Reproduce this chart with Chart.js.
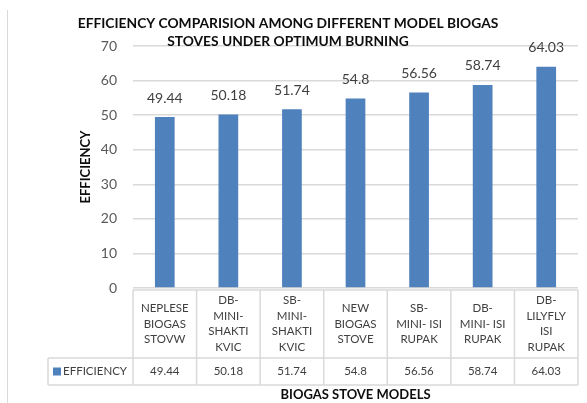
<!DOCTYPE html>
<html>
<head>
<meta charset="utf-8">
<script src="https://cdn.jsdelivr.net/npm/chart.js@4"></script>
<style>
  html, body { margin: 0; padding: 0; background: #fff; }
  #wrap { width: 587px; height: 403px; position: relative; }
</style>
</head>
<body>
<div id="wrap"><canvas id="chart" width="587" height="403"></canvas></div>
<script>
  const titleLines = [
    "EFFICIENCY COMPARISION AMONG DIFFERENT MODEL BIOGAS",
    "STOVES UNDER OPTIMUM BURNING",
  ];
  const seriesName = "EFFICIENCY";
  const categories = [
    ["NEPLESE", "BIOGAS", "STOVW"],
    ["DB-", "MINI-", "SHAKTI", "KVIC"],
    ["SB-", "MINI-", "SHAKTI", "KVIC"],
    ["NEW", "BIOGAS", "STOVE"],
    ["SB-", "MINI- ISI", "RUPAK"],
    ["DB-", "MINI- ISI", "RUPAK"],
    ["DB-", "LILYFLY", "ISI", "RUPAK"],
  ];
  const efficiency = [49.44, 50.18, 51.74, 54.8, 56.56, 58.74, 64.03];
  const yTicks = [0, 10, 20, 30, 40, 50, 60, 70];
  const xTitle = "BIOGAS STOVE MODELS";
  const yTitle = "EFFICIENCY";

  const FONT = "Lato, 'Open Sans', sans-serif";
  const BAR = "#4F81BD";
  const GRID = "#D9D9D9";

  // title, value labels, data table, frame
  const decor = {
    id: "decor",
    afterDatasetsDraw(chart) {
      const ctx = chart.ctx;
      const meta = chart.getDatasetMeta(0);
      ctx.save();
      ctx.fillStyle = "#404040";
      ctx.font = "14px " + FONT;
      ctx.textAlign = "center";
      ctx.textBaseline = "bottom";
      meta.data.forEach((bar, i) => {
        ctx.fillText(String(efficiency[i]), bar.x, bar.y - 12);
      });
      ctx.restore();
    },
    afterDraw(chart) {
      const ctx = chart.ctx;
      const area = chart.chartArea;
      const x = chart.scales.x;
      const colW = (area.right - area.left) / categories.length;
      const top = area.bottom + 2;
      const mid = top + 68;
      const bot = mid + 27;
      const legLeft = 48;

      ctx.save();
      // frame line on the left
      ctx.strokeStyle = GRID;
      ctx.lineWidth = 1;
      ctx.beginPath();
      ctx.moveTo(7.5, 10);
      ctx.lineTo(7.5, 403);
      ctx.stroke();

      // title
      ctx.fillStyle = "#0D0D0D";
      ctx.font = "bold 13.8px " + FONT;
      ctx.textAlign = "center";
      ctx.textBaseline = "middle";
      ctx.fillText(titleLines[0], 288, 24);
      ctx.fillText(titleLines[1], 288, 42);

      // table grid
      ctx.strokeStyle = GRID;
      ctx.lineWidth = 1.5;
      ctx.beginPath();
      ctx.moveTo(area.left, top);
      ctx.lineTo(area.right, top);
      ctx.moveTo(legLeft, mid);
      ctx.lineTo(area.right, mid);
      ctx.moveTo(legLeft, bot);
      ctx.lineTo(area.right, bot);
      ctx.moveTo(legLeft, mid);
      ctx.lineTo(legLeft, bot);
      for (let i = 0; i <= categories.length; i++) {
        const cx = area.left + i * colW;
        ctx.moveTo(cx, top);
        ctx.lineTo(cx, bot);
      }
      ctx.stroke();

      // header labels
      ctx.fillStyle = "#404040";
      ctx.font = "11.5px " + FONT;
      ctx.textAlign = "center";
      ctx.textBaseline = "middle";
      const lh = 15.5;
      categories.forEach((lines, i) => {
        const cx = x.getPixelForValue(i);
        const y0 = (top + mid) / 2 - ((lines.length - 1) * lh) / 2;
        lines.forEach((t, j) => ctx.fillText(t, cx, y0 + j * lh));
      });

      // data row
      ctx.font = "11.5px " + FONT;
      const ry = (mid + bot) / 2;
      efficiency.forEach((v, i) => {
        ctx.fillText(String(v), x.getPixelForValue(i), ry);
      });
      ctx.fillStyle = BAR;
      ctx.fillRect(53, ry - 4, 8, 8);
      ctx.fillStyle = "#404040";
      ctx.textAlign = "left";
      ctx.fillText(seriesName, 63, ry);

      // x axis title
      ctx.fillStyle = "#0D0D0D";
      ctx.font = "bold 13px " + FONT;
      ctx.textAlign = "center";
      ctx.fillText(xTitle, (area.left + area.right) / 2, 395);
      ctx.restore();
    },
  };

  new Chart(document.getElementById("chart"), {
    type: "bar",
    data: {
      labels: categories.map((c) => c.join(" ")),
      datasets: [
        {
          label: seriesName,
          data: efficiency,
          backgroundColor: BAR,
          barPercentage: 0.31,
          categoryPercentage: 1,
        },
      ],
    },
    options: {
      responsive: false,
      animation: false,
      layout: { padding: { left: 78, right: 9, top: 46, bottom: 115 } },
      plugins: {
        legend: { display: false },
        title: { display: false },
        tooltip: { enabled: false },
      },
      scales: {
        x: {
          display: true,
          ticks: { display: false },
          grid: { display: false, drawTicks: false },
          border: { display: false },
        },
        y: {
          min: 0,
          max: 70,
          afterBuildTicks: (scale) => {
            scale.ticks = yTicks.map((v) => ({ value: v }));
          },
          afterFit: (scale) => {
            scale.width = 55;
          },
          ticks: {
            padding: 16,
            color: "#595959",
            font: { family: FONT, size: 14 },
          },
          grid: { color: GRID, lineWidth: 1.5, drawTicks: false },
          border: { display: false },
          title: {
            display: true,
            text: yTitle,
            color: "#0D0D0D",
            font: { family: FONT, size: 13, weight: "bold" },
            padding: 0,
          },
        },
      },
    },
    plugins: [decor],
  });
</script>
</body>
</html>
